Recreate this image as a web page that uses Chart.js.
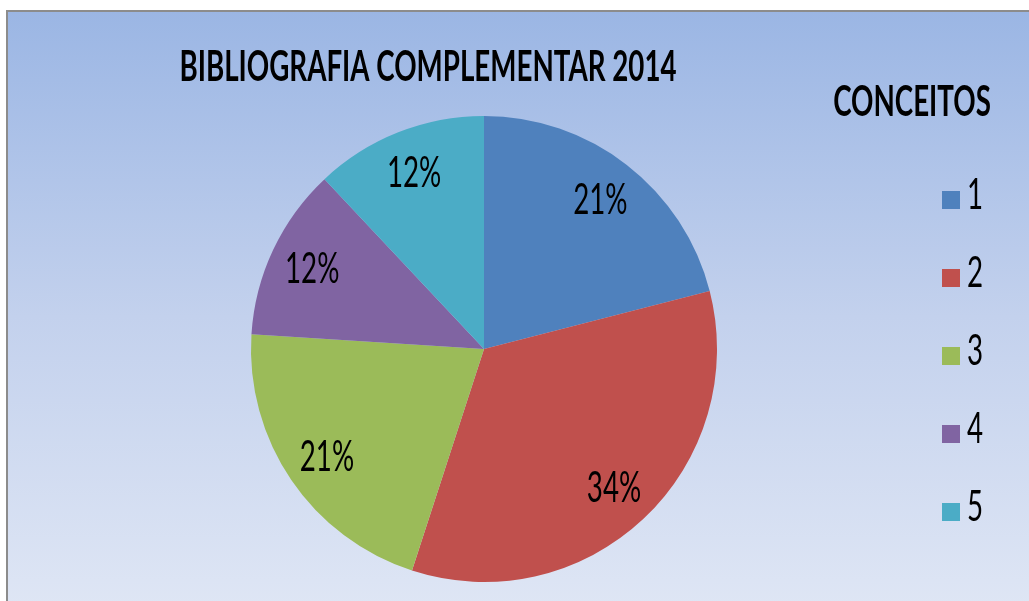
<!DOCTYPE html>
<html>
<head>
<meta charset="utf-8">
<script src="https://cdn.jsdelivr.net/npm/chart.js@4.4.0/dist/chart.umd.min.js"></script>
<style>
    html, body { margin: 0; padding: 0; background: #ffffff; overflow: hidden; }
    #frame {
        position: absolute; left: 6px; top: 10px; width: 1040px; height: 610px;
        border-left: 2px solid #8c8c8c; border-top: 2px solid #8c8c8c;
        background: linear-gradient(to bottom, #9bb6e4 0%, #c3d1ed 50%, #e0e7f5 100%);
    }
    #wrap { position: absolute; left: 0; top: 0; width: 1029px; height: 601px; }
</style>
</head>
<body>
<div id="frame"></div>
<div id="wrap"><canvas id="pieChart" width="1029" height="601"></canvas></div>
<script>
// data
var categories = ['1', '2', '3', '4', '5'];
var shares = [21, 34, 21, 12, 12];
var sliceColors = ['#4f81bd', '#c0504d', '#9bbb59', '#8064a2', '#4bacc6'];
var chartTitle = 'BIBLIOGRAFIA COMPLEMENTAR 2014';
var legendTitle = 'CONCEITOS';

var SQUEEZE = 0.66;   // the original font is a narrow one

function squeezedText(ctx, text, x, y, font, align) {
    ctx.save();
    ctx.font = font;
    ctx.fillStyle = '#000000';
    ctx.textAlign = align;
    ctx.textBaseline = 'alphabetic';
    ctx.translate(x, y);
    ctx.scale(SQUEEZE, 1);
    ctx.fillText(text, 0, 0);
    ctx.restore();
}

var pieDecor = {
    id: 'pieDecor',
    afterDatasetsDraw: function (chart) {
        var ctx = chart.ctx;
        var meta = chart.getDatasetMeta(0);
        meta.data.forEach(function (arc, i) {
            var mid = (arc.startAngle + arc.endAngle) / 2;
            var r = arc.outerRadius * 0.815;
            var px = arc.x + Math.cos(mid) * r;
            var py = arc.y + Math.sin(mid) * r;
            squeezedText(ctx, shares[i] + '%', px, py + 15, '42px Lato', 'center');
        });
    },
    afterDraw: function (chart) {
        var ctx = chart.ctx;
        squeezedText(ctx, chartTitle, 428, 81, 'bold 42px Lato', 'center');
        squeezedText(ctx, legendTitle, 912, 116, 'bold 42px Lato', 'center');
        categories.forEach(function (c, i) {
            ctx.fillStyle = sliceColors[i];
            ctx.fillRect(942, 191 + 78 * i, 18, 18);
            squeezedText(ctx, c, 967, 209 + 78 * i, '42px Lato', 'left');
        });
    }
};

var ctx = document.getElementById('pieChart').getContext('2d');
var myChart = new Chart(ctx, {
    type: 'pie',
    data: {
        labels: categories,
        datasets: [{
            data: shares,
            backgroundColor: sliceColors,
            borderWidth: 0
        }]
    },
    options: {
        responsive: false,
        animation: false,
        devicePixelRatio: 1,
        layout: { padding: { left: 251, right: 312, top: 116, bottom: 19 } },
        plugins: {
            legend: { display: false },
            title: { display: false },
            tooltip: { enabled: false }
        }
    },
    plugins: [pieDecor]
});
</script>
</body>
</html>
